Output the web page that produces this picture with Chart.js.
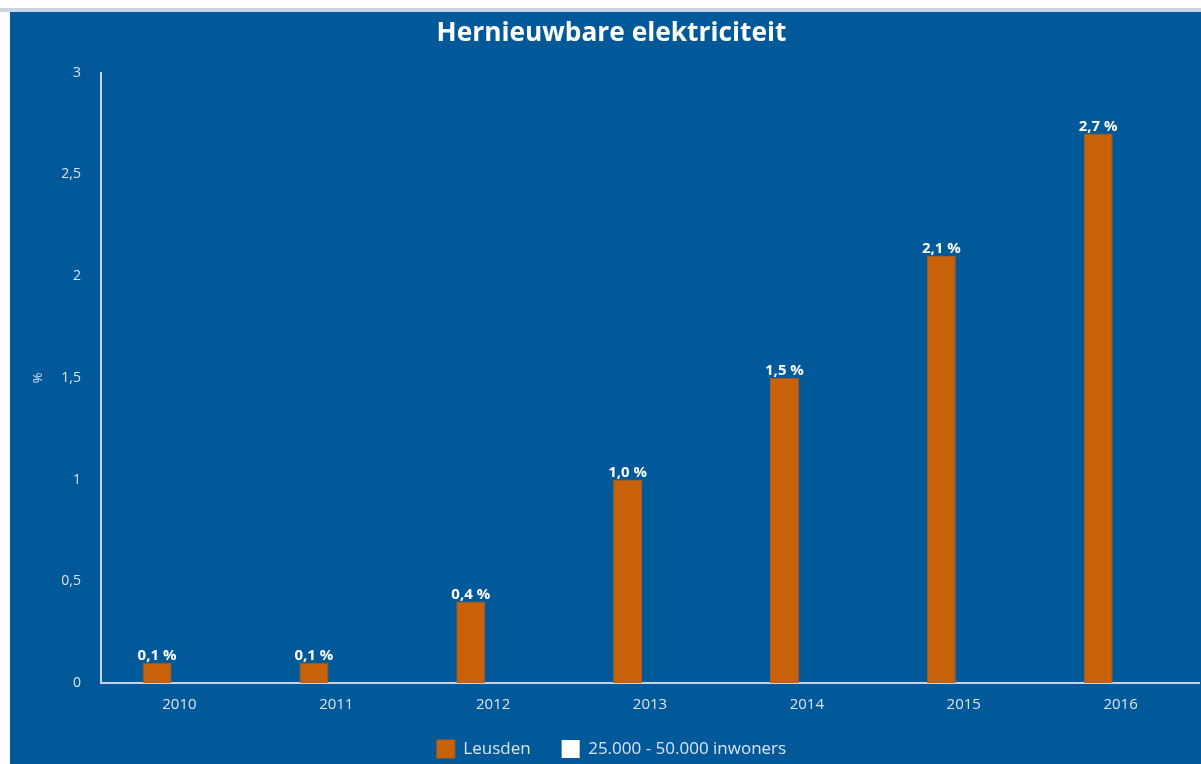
<!DOCTYPE html>
<html>
<head>
<meta charset="utf-8">
<script src="https://cdn.jsdelivr.net/npm/chart.js@4"></script>
<style>
  html, body { margin: 0; padding: 0; background: #fff; }
  .topline { position: absolute; left: 0; top: 8px; width: 1201px; height: 4px; background: #c9d5e5; }
  .box { position: absolute; left: 10px; top: 12px; width: 1191px; height: 752px; background: #02599a; overflow: hidden; }
</style>
</head>
<body>
<div class="topline"></div>
<div class="box"><canvas id="myChart" width="1191" height="752"></canvas></div>
<script>
const years = ['2010', '2011', '2012', '2013', '2014', '2015', '2016'];
const leusden = [0.1, 0.1, 0.4, 1.0, 1.5, 2.1, 2.7];
const groupAvg = [null, null, null, null, null, null, null];
const yTicks = [0, 0.5, 1, 1.5, 2, 2.5, 3];

const fmt = v => String(v).replace('.', ',');

// labels above the bars
const valueLabels = {
    id: 'valueLabels',
    afterDatasetsDraw(chart) {
        const ctx = chart.ctx;
        const meta = chart.getDatasetMeta(0);
        ctx.save();
        ctx.font = 'bold 15px "Open Sans"';
        ctx.fillStyle = '#ffffff';
        ctx.textAlign = 'center';
        ctx.textBaseline = 'alphabetic';
        meta.data.forEach((bar, i) => {
            ctx.fillText(leusden[i].toFixed(1).replace('.', ',') + ' %', bar.x, bar.y - 3);
        });
        ctx.restore();
    }
};

new Chart(document.getElementById('myChart').getContext('2d'), {
    type: 'bar',
    data: {
        labels: years,
        datasets: [
            { label: 'Leusden', data: leusden, backgroundColor: '#c9610a', borderColor: '#b85a12', borderWidth: 1 },
            { label: '25.000 - 50.000 inwoners', data: groupAvg, backgroundColor: '#ffffff' }
        ]
    },
    options: {
        responsive: false,
        animation: false,
        categoryPercentage: 0.571,
        barPercentage: 0.647,
        layout: { padding: { top: 0, right: 2, bottom: -4, left: 14 } },
        plugins: {
            title: {
                display: true,
                text: 'Hernieuwbare elektriciteit',
                color: '#ffffff',
                font: { family: 'Open Sans', size: 26.3, weight: 'bold' },
                padding: { top: 6, bottom: 23 }
            },
            legend: {
                position: 'bottom',
                labels: {
                    color: '#dbe4ee',
                    font: { family: 'Open Sans', size: 17 },
                    boxWidth: 18,
                    boxHeight: 18,
                    padding: 31
                }
            },
            tooltip: { enabled: false }
        },
        scales: {
            x: {
                grid: { display: false, drawTicks: false },
                border: { color: '#c6d4e6', width: 2 },
                ticks: { color: '#dbe4ee', font: { family: 'Open Sans', size: 15 }, padding: 13 },
                afterFit(s) { s.height = 26; }
            },
            y: {
                min: 0,
                max: 3,
                afterBuildTicks(s) { s.ticks = yTicks.map(v => ({ value: v })); },
                grid: { display: false, drawTicks: false },
                border: { color: '#c6d4e6', width: 2 },
                ticks: { color: '#dbe4ee', font: { family: 'Open Sans', size: 14 }, padding: 20, callback: v => fmt(v) },
                title: { display: true, text: '%', color: '#dbe4ee', font: { family: 'Open Sans', size: 13 }, padding: { top: 6, bottom: 4 } },
                afterFit(s) { s.width = 77; }
            }
        }
    },
    plugins: [valueLabels]
});
</script>
</body>
</html>
